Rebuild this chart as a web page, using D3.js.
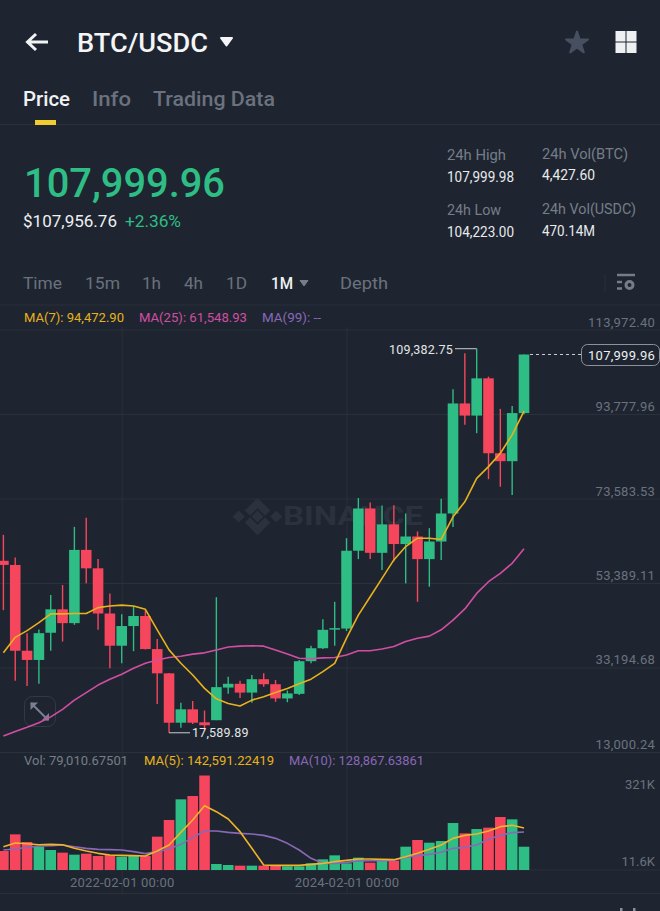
<!DOCTYPE html>
<html><head><meta charset="utf-8">
<script src="https://cdn.jsdelivr.net/npm/d3@7"></script>
<style>html,body{margin:0;padding:0;background:#1e2530;overflow:hidden}svg{display:block}text{font-family:Roboto,"Noto Sans",sans-serif}</style>
</head><body><svg id="c" width="660" height="911"></svg>
<script>
const opens=[58700,57700,37200,35000,41500,47100,43800,61300,56900,46100,38400,43100,45500,37600,31800,20000,23200,20100,20600,28400,29300,27200,30400,29200,25800,26900,34700,37800,42300,42500,61100,71200,60600,67400,62700,64500,59100,63300,70000,96300,93400,102300,84400,82500,94000];
const closes=[57700,37200,35000,41400,47100,43800,61300,56900,46100,38400,43100,45500,37600,31800,20000,23200,20000,19400,28500,29300,27200,30400,29200,25800,27000,34700,37800,42200,42600,61100,71200,60600,67400,62700,64500,59100,63300,70000,96300,93400,102300,84400,82500,94000,107999.96];
const highs=[64900,59500,41400,42300,50500,52900,66800,69000,59100,50900,45900,47900,46900,40000,31900,24800,25200,22900,50000,31000,30000,31400,31800,30200,27700,35000,38400,44700,48900,64100,73700,72600,71900,72000,70000,65700,66500,73500,99700,108300,109382.75,102700,95000,95700,107999.96];
const lows=[46900,30000,28800,29300,37200,39400,43400,53300,42200,33000,34200,37100,37500,24500,17589.89,18800,19700,18100,20600,26900,25900,24800,28600,25000,24900,26600,34200,37600,38400,41900,59100,59100,56500,58500,53300,48900,52500,58900,66800,91200,89200,78200,76400,74400,93700];
const ma7=[36700,40400,42000,43900,46000,46000,46100,46100,47500,47900,48100,47900,47100,42200,37400,34200,31400,28200,25700,24600,24000,25400,26200,27200,28200,29300,30400,32200,34200,40200,45700,50100,54500,58900,62100,64100,64100,63800,69200,72800,78400,81200,84400,88800,94472.90];
const ma25=[16800,17900,18900,20000,21400,23200,25400,27200,29000,30400,31600,33000,34200,35000,35600,35900,36400,36700,37400,38100,38300,38400,38300,37400,36400,35400,35300,35500,35600,36200,37200,37200,37600,38200,39400,40200,40700,42200,44500,47200,50900,53700,55700,58100,61548.93];
const volumes=[64500,121100,95100,79200,67900,58900,52100,55500,47500,50900,45300,47500,47500,113200,169800,240000,251300,321000,20400,17000,14700,14700,14700,14700,12500,12500,22600,36200,49800,22600,41900,24900,30600,31700,79200,101900,92800,98500,159600,124500,139200,143800,180000,172100,79010.67501];
const volMa5=[79200,91700,89400,86000,87200,86000,73600,64500,56600,50900,49800,48700,47500,64500,84900,127900,169800,218500,198100,173200,130200,73600,17000,15800,15800,15800,19200,22600,28300,32800,37400,37400,36200,35100,45300,56600,70200,84900,107500,117700,122300,132400,147200,151700,142591.22419];
const volMa10=[67900,71300,77000,81500,82600,84900,79200,73600,70200,69100,67900,62300,55500,62300,71300,87200,109800,132400,132400,127900,124500,122300,117700,107500,90600,67900,39600,22600,22600,26000,30600,31700,31700,32800,43000,48700,53200,60000,73600,77000,84900,104100,117700,126800,128867.63861];
const priceTicks=[113972.40,93777.96,73583.53,53389.11,33194.68,13000.24];
const volTicks=[321000,0];
const volTickLabels=["321K","11.6K"];
const dateTicks=[10,29];
const dateLabels=["2022-02-01 00:00","2024-02-01 00:00"];
const lastPrice=107999.96, highLabel=109382.75, lowLabel=17589.89;

const GREEN="#2ebd85",RED="#f6465d",GRID="#2a313b",YEL="#e8b21c",PINK="#d24ea3",PUR="#8a68b8",MUTE="#767d89",AX="#6b727e";
const svg=d3.select("#c");
const x=d3.scaleLinear().domain([0,44]).range([3.4,524]);
const y=d3.scaleLinear().domain([13000.24,113972.40]).range([752,329.5]);
const yv=d3.scaleLinear().domain([0,321000]).range([870,775.5]);
const T=(s,px,py,size,fill,o={})=>{const t=svg.append("text").attr("x",px).attr("y",py).attr("font-size",size).attr("fill",fill)
 .attr("font-weight",o.w||400).attr("text-anchor",o.a||"start").attr("letter-spacing",o.ls||null).text(s);
 if(o.len)t.attr("textLength",o.len).attr("lengthAdjust","spacingAndGlyphs");return t;};
const H=(yy,x1=0,x2=660)=>svg.append("line").attr("x1",x1).attr("x2",x2).attr("y1",yy).attr("y2",yy).attr("stroke",GRID).attr("stroke-width",1);

// header
svg.append("path").attr("d","M48 42H28M36 34L27.5 42L36 50").attr("fill","none").attr("stroke","#f2f3f5").attr("stroke-width",3);
T("BTC/USDC",77,52,26,"#f4f5f6",{w:500,len:131});
svg.append("path").attr("d","M221 38H232L226.500 45.500Z").attr("fill","#f4f5f6").attr("stroke","#f4f5f6").attr("stroke-width",2).attr("stroke-linejoin","round");
svg.append("path").attr("d",d3.symbol(d3.symbolStar,150)()).attr("transform","translate(577,43)").attr("fill","#465060").attr("stroke","#465060").attr("stroke-width",2).attr("stroke-linejoin","round");
[[615.5,31],[626.5,31],[615.5,42.5],[626.5,42.5]].forEach(p=>svg.append("rect").attr("x",p[0]).attr("y",p[1]).attr("width",10).attr("height",10.500).attr("fill","#eef0f2"));
T("Price",23,106,21,"#f1f2f4",{w:500,len:47});
T("Info",92,106,21,"#6b727e",{w:500,len:39});
T("Trading Data",153,106,21,"#6b727e",{w:500,len:122});
svg.append("rect").attr("x",35).attr("y",120).attr("width",21).attr("height",5).attr("fill","#f0cc2e");
H(124.500,56);H(124.500,0,35);
T("107,999.96",24,197,41,GREEN,{w:500,len:201});
T("$107,956.76",23,227,16,"#eef0f2",{w:400,len:94});
T("+2.36%",125,227,16,GREEN,{len:56});
T("24h High",447,160,15,MUTE,{len:59});T("107,999.98",447,182,15,"#e8eaed",{len:67});
T("24h Low",447,215,15,MUTE,{len:54});T("104,223.00",447,237,15,"#e8eaed",{len:67});
T("24h Vol(BTC)",542,159,15,MUTE,{len:86});T("4,427.60",542,180,15,"#e8eaed",{len:53});
T("24h Vol(USDC)",542,214,15,MUTE,{len:94});T("470.14M",542,236,15,"#e8eaed",{len:53});
[["Time",23,39],["15m",85,35],["1h",142,19],["4h",184,19],["1D",226,21],["Depth",340,48]].forEach(d=>T(d[0],d[1],289,17,"#6b727e",{len:d[2]}));
T("1M",271,289,17,"#f1f2f4",{w:500,len:22});
svg.append("path").attr("d","M300 280.500H308L304 286Z").attr("fill","#767d89").attr("stroke","#767d89").attr("stroke-linejoin","round");
svg.append("line").attr("x1",605).attr("x2",605).attr("y1",274).attr("y2",292).attr("stroke",GRID);
svg.append("path").attr("d","M617 275H635M617 282H622M617 288.500H622").attr("stroke","#767d89").attr("stroke-width",2.500).attr("fill","none");
svg.append("circle").attr("cx",629.500).attr("cy",285).attr("r",3.500).attr("fill","none").attr("stroke","#767d89").attr("stroke-width",3);
H(305);

// watermark
svg.append("path").attr("fill","#2b323d").attr("transform","translate(257.500,516.500) scale(1.5) translate(-257.500,-514.500)").attr("d","M257.500 502L266 510.500L262.500 514L257.500 509L252.500 514L249 510.500ZM245 510.500L249 514.500L245 518.500L241 514.500ZM270 510.500L274 514.500L270 518.500L266 514.500ZM257.500 510.500L261.500 514.500L257.500 518.500L253.500 514.500ZM262.500 515L266 518.500L257.500 527L249 518.500L252.500 515L257.500 520Z");
T("BINANCE",283,525,25,"#2b323d",{w:700,len:140});

// grid + axes
const gx=svg.append("g").attr("transform","translate(0,895)").call(d3.axisBottom(x).tickValues(dateTicks).tickSize(-568).tickFormat((d,i)=>dateLabels[i]));
gx.select(".domain").remove();
gx.selectAll("line").attr("stroke",GRID);
gx.selectAll("text").attr("font-size",13).attr("fill",AX).attr("y",-8).attr("dy",0).attr("font-family",null).attr("letter-spacing",.2);
const gy=svg.append("g").attr("transform","translate(660,0)").call(d3.axisLeft(y).tickValues(priceTicks).tickSize(660).tickFormat(d3.format(",.2f")));
gy.select(".domain").remove();
gy.selectAll("line").attr("stroke",GRID);
gy.selectAll("text").attr("x",-5).attr("dy",-3.500).attr("text-anchor","end").attr("font-size",13).attr("fill",AX).attr("letter-spacing",.25);
const gv=svg.append("g").attr("transform","translate(660,0)").call(d3.axisLeft(yv).tickValues(volTicks).tickSize(0).tickFormat((d,i)=>volTickLabels[i]));
gv.select(".domain").remove();
gv.selectAll("text").attr("x",-5).attr("text-anchor","end").attr("font-size",13).attr("fill",AX).attr("dy",(d,i)=>i?-4.500:13);
H(870);H(893.500);

// MA legend
T("MA(7): 94,472.90",24,322,12.500,YEL,{len:100});
T("MA(25): 61,548.93",139,322,12.500,PINK,{len:108});
T("MA(99): --",262,322,12.500,PUR,{len:59});
T("Vol: 79,010.67501",24,765,12.500,MUTE,{len:104});
T("MA(5): 142,591.22419",144,765,12.500,YEL,{len:130});
T("MA(10): 128,867.63861",289,765,12.500,PUR,{len:135});

// expand button
svg.append("rect").attr("x",24.500).attr("y",696.500).attr("width",31).attr("height",30).attr("rx",8).attr("fill","none").attr("stroke","#333a46");
svg.append("path").attr("d","M31 703L48 720").attr("stroke","#7b7f92").attr("stroke-width",2);
svg.append("path").attr("d","M30.500 702.500H38L30.500 710ZM49 720.500H41.500L49 713Z").attr("fill","#7b7f92");

// candles
const idx=d3.range(opens.length);
const col=i=>closes[i]>=opens[i]?GREEN:RED;
svg.append("g").selectAll("line").data(idx).join("line").attr("x1",x).attr("x2",x).attr("y1",i=>y(highs[i])).attr("y2",i=>y(lows[i])).attr("stroke",col).attr("stroke-width",1.400);
svg.append("g").selectAll("rect").data(idx).join("rect").attr("x",i=>x(i)-5.300).attr("width",10.600)
 .attr("y",i=>y(Math.max(opens[i],closes[i]))).attr("height",i=>Math.max(1.500,Math.abs(y(opens[i])-y(closes[i])))).attr("fill",col);
const ln=(s,arr,c,w=1.600)=>svg.append("path").attr("d",d3.line().x((d,i)=>x(i)).y(d=>s(d))(arr)).attr("fill","none").attr("stroke",c).attr("stroke-width",w).attr("stroke-linejoin","round");
ln(y,ma25,PINK);ln(y,ma7,YEL);

// vol
svg.append("g").selectAll("rect").data(idx).join("rect").attr("x",i=>x(i)-5.300).attr("width",10.600)
 .attr("y",i=>yv(volumes[i])).attr("height",i=>yv(0)-yv(volumes[i])).attr("fill",col);
ln(yv,volMa10,PUR);ln(yv,volMa5,"#f0b429");

// annotations
const hx=x(highs.indexOf(highLabel)),lx=x(lows.indexOf(lowLabel));
svg.append("path").attr("d",`M${hx} ${y(highLabel)}H455`).attr("stroke","#c9ccd1").attr("fill","none");
T(d3.format(",.2f")(highLabel),453,353.500,12.500,"#e3e5e8",{a:"end",ls:.2});
svg.append("path").attr("d",`M${lx} ${y(lowLabel)}H190`).attr("stroke","#c9ccd1").attr("fill","none");
T(d3.format(",.2f")(lowLabel),192,737,12.500,"#e3e5e8",{ls:.2});
svg.append("line").attr("x1",530).attr("x2",581).attr("y1",y(lastPrice)).attr("y2",y(lastPrice)).attr("stroke","#c9ccd1").attr("stroke-dasharray","3 3");
svg.append("rect").attr("x",581.500).attr("y",344.500).attr("width",78).attr("height",21).attr("rx",6).attr("fill","#1e2530").attr("stroke","#8c929c");
T(d3.format(",.2f")(lastPrice),655,360,13,"#eef0f2",{a:"end",ls:.25});

// partial icons at the bottom edge
[620,633].forEach(px=>svg.append("rect").attr("x",px).attr("y",908).attr("width",2.500).attr("height",3).attr("fill","#8a909a"));
</script></body></html>
